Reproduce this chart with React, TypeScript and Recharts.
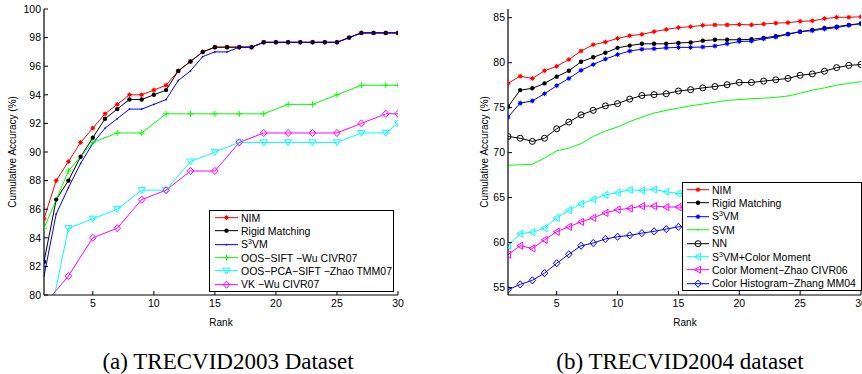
import React from 'react';
import { LineChart, Line, XAxis, YAxis, Legend } from 'recharts';

const FONT = "'Liberation Sans', Arial, Helvetica, sans-serif";

// ---------- shared ----------
const ranks = Array.from({ length: 30 }, (_, i) => i + 1);
const oddRanks = [1, 3, 5, 7, 9, 11, 13, 15, 17, 19, 21, 23, 25, 27, 29, 30];
const rankTicks = [5, 10, 15, 20, 25, 30];

// ---------- (a) TRECVID2003 ----------
const yTicksA = [80, 82, 84, 86, 88, 90, 92, 94, 96, 98, 100];
const nimA = [85.33, 88.0, 89.33, 90.67, 91.67, 92.67, 93.33, 94.0, 94.0, 94.33, 94.67, 95.67, 96.33, 97.0, 97.33, 97.33, 97.33, 97.33, 97.67, 97.67, 97.67, 97.67, 97.67, 97.67, 97.67, 98.0, 98.33, 98.33, 98.33, 98.33];
const rigidA = [82.33, 86.67, 88.0, 89.67, 91.0, 92.33, 93.0, 93.67, 93.67, 94.0, 94.33, 95.67, 96.33, 97.0, 97.33, 97.33, 97.33, 97.33, 97.67, 97.67, 97.67, 97.67, 97.67, 97.67, 97.67, 98.0, 98.33, 98.33, 98.33, 98.33];
const s3vmA = [81.33, 85.67, 87.5, 89.2, 90.6, 91.67, 92.33, 93.0, 93.0, 93.33, 93.67, 95.0, 95.67, 96.67, 97.0, 97.0, 97.33, 97.33, 97.67, 97.67, 97.67, 97.67, 97.67, 97.67, 97.67, 98.0, 98.33, 98.33, 98.33, 98.33];
const oosSiftA = [84.67, 88.67, 90.67, 91.33, 91.33, 92.67, 92.67, 92.67, 92.67, 92.67, 93.33, 93.33, 94.0, 94.67, 94.67, 94.67];
const oosPcaA = [76.4, 84.67, 85.33, 86.0, 87.33, 87.33, 89.33, 90.0, 90.67, 90.67, 90.67, 90.67, 90.67, 91.33, 91.33, 92.0];
const vkA = [79.3, 81.33, 84.0, 84.67, 86.67, 87.33, 88.67, 88.67, 90.67, 91.33, 91.33, 91.33, 91.33, 92.0, 92.67, 92.67];

// ---------- (b) TRECVID2004 ----------
const yTicksB = [55, 60, 65, 70, 75, 80, 85];
const nimB = [77.7, 78.5, 78.25, 79.1, 79.6, 80.35, 81.3, 82.0, 82.3, 82.7, 83.0, 83.15, 83.45, 83.7, 83.9, 84.0, 84.15, 84.2, 84.2, 84.25, 84.2, 84.3, 84.4, 84.45, 84.6, 84.65, 84.9, 85.05, 85.05, 85.1];
const rigidB = [75.1, 76.95, 77.15, 77.7, 78.45, 79.1, 80.1, 80.6, 81.1, 81.65, 81.9, 82.1, 82.1, 82.1, 82.2, 82.25, 82.45, 82.55, 82.55, 82.55, 82.6, 82.75, 82.95, 83.2, 83.45, 83.65, 83.85, 84.0, 84.2, 84.35];
const s3vmB = [73.95, 75.5, 75.75, 76.55, 77.45, 78.25, 79.15, 79.8, 80.4, 80.9, 81.3, 81.5, 81.55, 81.65, 81.7, 81.7, 81.75, 81.85, 82.1, 82.35, 82.4, 82.65, 82.85, 83.15, 83.45, 83.55, 83.75, 83.9, 84.15, 84.35];
const svmB = [68.6, 68.65, 68.7, 69.4, 70.2, 70.5, 71.0, 71.8, 72.4, 72.85, 73.45, 73.95, 74.4, 74.7, 74.95, 75.2, 75.4, 75.6, 75.8, 75.9, 76.0, 76.05, 76.15, 76.3, 76.6, 76.95, 77.2, 77.5, 77.7, 77.9];
const nnB = [71.8, 71.6, 71.25, 71.6, 72.65, 73.4, 74.2, 74.7, 75.2, 75.45, 75.95, 76.35, 76.45, 76.55, 76.85, 77.0, 77.2, 77.35, 77.55, 77.8, 77.8, 77.95, 78.1, 78.25, 78.6, 78.75, 79.05, 79.45, 79.7, 79.8];
const s3vmCmB = [59.65, 61.0, 61.15, 61.6, 62.75, 63.6, 64.3, 64.8, 65.3, 65.55, 65.85, 65.8, 65.9, 65.65, 65.45, 65.4, 65.35, 65.3, 65.3, 65.35, 65.4, 65.4, 65.45, 65.5, 65.5, 65.55, 65.55, 65.6, 65.6, 65.65];
const cmZhaoB = [58.65, 59.65, 59.35, 60.3, 61.2, 61.75, 62.3, 62.75, 63.3, 63.65, 63.8, 64.05, 64.05, 63.95, 63.95, 63.95, 63.9, 63.9, 63.9, 63.95, 63.95, 64.0, 64.0, 64.0, 64.05, 64.05, 64.05, 64.05, 64.05, 64.05];
const chZhangB = [54.75, 55.35, 55.8, 56.6, 57.7, 58.7, 59.65, 59.95, 60.4, 60.65, 60.8, 61.05, 61.25, 61.5, 61.75, 61.85, 61.9, 61.95, 62.0, 62.05, 62.1, 62.15, 62.2, 62.3, 62.35, 62.4, 62.45, 62.5, 62.55, 62.6];

type Shape = 'star' | 'dot' | 'point' | 'plus' | 'tridown' | 'trileft' | 'diamond' | 'circle' | 'none';

const sup3 = <sup style={{ fontSize: '7px', verticalAlign: 'super', lineHeight: 0 }}>3</sup>;

interface Series { key: string; label: React.ReactNode; color: string; shape: Shape; x: number[]; y: number[] }

const seriesA: Series[] = [
  { key: 'NIM', label: 'NIM', color: '#ff0000', shape: 'star', x: ranks, y: nimA },
  { key: 'Rigid', label: 'Rigid Matching', color: '#000000', shape: 'dot', x: ranks, y: rigidA },
  { key: 'S3VM', label: <>S{sup3}VM</>, color: '#0000ff', shape: 'point', x: ranks, y: s3vmA },
  { key: 'OOSSIFT', label: 'OOS\u2212SIFT \u2212Wu CIVR07', color: '#00ff00', shape: 'plus', x: oddRanks, y: oosSiftA },
  { key: 'OOSPCA', label: 'OOS\u2212PCA\u2212SIFT \u2212Zhao TMM07', color: '#00ffff', shape: 'tridown', x: oddRanks, y: oosPcaA },
  { key: 'VK', label: 'VK \u2212Wu CIVR07', color: '#ff00ff', shape: 'diamond', x: oddRanks, y: vkA },
];

const seriesB: Series[] = [
  { key: 'NIM', label: 'NIM', color: '#ff0000', shape: 'star', x: ranks, y: nimB },
  { key: 'Rigid', label: 'Rigid Matching', color: '#000000', shape: 'dot', x: ranks, y: rigidB },
  { key: 'S3VM', label: <>S{sup3}VM</>, color: '#0000ff', shape: 'star', x: ranks, y: s3vmB },
  { key: 'SVM', label: 'SVM', color: '#00ff00', shape: 'none', x: ranks, y: svmB },
  { key: 'NN', label: 'NN', color: '#000000', shape: 'circle', x: ranks, y: nnB },
  { key: 'S3VMCM', label: <>S{sup3}VM+Color Moment</>, color: '#00ffff', shape: 'trileft', x: ranks, y: s3vmCmB },
  { key: 'CMZhao', label: 'Color Moment\u2212Zhao CIVR06', color: '#ff00ff', shape: 'trileft', x: ranks, y: cmZhaoB },
  { key: 'CHZhang', label: 'Color Histogram\u2212Zhang MM04', color: '#0000ff', shape: 'diamond', x: ranks, y: chZhangB },
];

function marker(shape: Shape, color: string, cx: number, cy: number, key?: any) {
  switch (shape) {
    case 'star':
      return (
        <g key={key}>
          <circle cx={cx} cy={cy} r={1.8} fill={color} />
          <path d={`M${cx - 2.5},${cy}H${cx + 2.5}M${cx},${cy - 2.5}V${cy + 2.5}M${cx - 1.8},${cy - 1.8}L${cx + 1.8},${cy + 1.8}M${cx - 1.8},${cy + 1.8}L${cx + 1.8},${cy - 1.8}`} stroke={color} strokeWidth={0.8} />
        </g>
      );
    case 'dot':
      return <circle key={key} cx={cx} cy={cy} r={2.2} fill={color} />;
    case 'point':
      return <circle key={key} cx={cx} cy={cy} r={0.9} fill={color} />;
    case 'plus':
      return <path key={key} d={`M${cx - 3},${cy}H${cx + 3}M${cx},${cy - 3}V${cy + 3}`} stroke={color} strokeWidth={1} fill="none" />;
    case 'tridown':
      return <path key={key} d={`M${cx - 3.6},${cy - 2.6}L${cx + 3.6},${cy - 2.6}L${cx},${cy + 3.4}Z`} stroke={color} strokeWidth={1} fill="none" />;
    case 'trileft':
      return <path key={key} d={`M${cx + 2.6},${cy - 3.6}L${cx + 2.6},${cy + 3.6}L${cx - 3.4},${cy}Z`} stroke={color} strokeWidth={1} fill="none" />;
    case 'diamond':
      return <path key={key} d={`M${cx},${cy - 3.6}L${cx + 3.3},${cy}L${cx},${cy + 3.6}L${cx - 3.3},${cy}Z`} stroke={color} strokeWidth={1} fill="none" />;
    case 'circle':
      return <circle key={key} cx={cx} cy={cy} r={3} stroke={color} strokeWidth={1} fill="none" />;
    default:
      return <g key={key} />;
  }
}

// ---------- ticks (inward tick marks, MATLAB style) ----------
const TICK_FS = 10.5;
const BottomTick = (p: any) => (
  <g>
    <line x1={p.x} y1={p.y} x2={p.x} y2={p.y - 4} stroke="#000" strokeWidth={1} />
    <text x={p.x} y={p.y + 12} textAnchor="middle" fontSize={TICK_FS} fontFamily={FONT} fill="#000">{p.payload.value}</text>
  </g>
);
const LeftTick = (p: any) => (
  <g>
    <line x1={p.x} y1={p.y} x2={p.x + 4} y2={p.y} stroke="#000" strokeWidth={1} />
    <text x={p.x - 3} y={p.y + 3.7} textAnchor="end" fontSize={TICK_FS} fontFamily={FONT} fill="#000">{p.payload.value}</text>
  </g>
);
const TopTick = (p: any) => <line x1={p.x} y1={p.y} x2={p.x} y2={p.y + 4} stroke="#000" strokeWidth={1} />;
const RightTick = (p: any) => <line x1={p.x} y1={p.y} x2={p.x - 4} y2={p.y} stroke="#000" strokeWidth={1} />;

function LegendBox({ items, width, height, lineW, padL }: { items: Series[]; width: number; height: number; lineW: number; padL: number }) {
  const rowH = (height - 2) / items.length;
  return (
    <div style={{ width, height, boxSizing: 'border-box', border: '1px solid #000', background: '#fff', fontFamily: FONT, fontSize: 10.5, color: '#000', paddingLeft: padL }}>
      {items.map((s) => (
        <div key={s.key} style={{ height: rowH, display: 'flex', alignItems: 'center', whiteSpace: 'nowrap' }}>
          <svg width={lineW} height={rowH} style={{ flex: 'none' }}>
            <line x1={0} y1={rowH / 2} x2={lineW} y2={rowH / 2} stroke={s.color} strokeWidth={1} />
            {marker(s.shape === 'none' ? 'point' : s.shape, s.color, lineW / 2, rowH / 2)}
          </svg>
          <span style={{ marginLeft: 3 }}>{s.label}</span>
        </div>
      ))}
    </div>
  );
}

interface PanelProps {
  width: number; height: number; yAxisW: number; marginRight: number;
  yDomain: [number, number]; yTicks: number[]; series: Series[];
  legend: { left: number; top: number; width: number; height: number; lineW: number; padL: number };
}

function Panel({ width, height, yAxisW, marginRight, yDomain, yTicks, series, legend }: PanelProps) {
  return (
    <LineChart width={width} height={height} margin={{ top: 9, right: marginRight, bottom: 25, left: 0 }}>
      <XAxis xAxisId="b" type="number" dataKey="rank" domain={[1, 30]} ticks={rankTicks} interval={0} allowDataOverflow
        height={20} tickSize={0} tickMargin={0} tickLine={false} tick={BottomTick} axisLine={{ stroke: '#000', strokeWidth: 1.2 }} />
      <XAxis xAxisId="t" orientation="top" type="number" dataKey="rank" domain={[1, 30]} ticks={rankTicks} interval={0} allowDataOverflow
        height={0} tickSize={0} tickMargin={0} tickLine={false} tick={TopTick} axisLine={{ stroke: '#000', strokeWidth: 1.2 }} />
      <YAxis yAxisId="l" type="number" domain={yDomain} ticks={yTicks} interval={0} allowDataOverflow
        width={yAxisW} tickSize={0} tickMargin={0} tickLine={false} tick={LeftTick} axisLine={{ stroke: '#000', strokeWidth: 1.2 }} />
      <YAxis yAxisId="r" orientation="right" type="number" domain={yDomain} ticks={yTicks} interval={0} allowDataOverflow
        width={0} tickSize={0} tickMargin={0} tickLine={false} tick={RightTick} axisLine={{ stroke: '#000', strokeWidth: 1.2 }} />
      {series.map((s) => (
        <Line key={s.key} xAxisId="b" yAxisId="l" type="linear" name={s.key}
          data={s.x.map((r, i) => ({ rank: r, value: s.y[i] }))} dataKey="value"
          stroke={s.color} strokeWidth={1} isAnimationActive={false} activeDot={false}
          dot={s.shape === 'none' ? false : (p: any) => (p.cy == null ? <g key={p.index} /> : marker(s.shape, s.color, p.cx, p.cy, p.index))} />
      ))}
      <Legend layout="vertical" align="center" verticalAlign="middle"
        wrapperStyle={{ position: 'absolute', left: legend.left, top: legend.top, width: legend.width, height: legend.height, margin: 0, padding: 0 }}
        content={() => <LegendBox items={series} width={legend.width} height={legend.height} lineW={legend.lineW} padL={legend.padL} />} />
    </LineChart>
  );
}

const YLABEL = 'Cumulative Accuracy (%)';
const SERIF = "'Liberation Serif', 'Times New Roman', serif";

export default function App() {
  return (
    <div style={{ position: 'fixed', left: 0, top: 0, width: 862, height: 374, overflow: 'hidden', background: '#fff' }}>
      <div style={{ position: 'absolute', left: 0, top: 0 }}>
        <Panel width={420} height={340} yAxisW={44} marginRight={22} yDomain={[80, 100]} yTicks={yTicksA} series={seriesA}
          legend={{ left: 209, top: 210, width: 185, height: 82, lineW: 23, padL: 5 }} />
      </div>
      <div style={{ position: 'absolute', left: 440, top: 0 }}>
        <Panel width={440} height={340} yAxisW={68} marginRight={19} yDomain={[54.17, 85.97]} yTicks={yTicksB} series={seriesB}
          legend={{ left: 242, top: 182, width: 180, height: 109, lineW: 22, padL: 4 }} />
      </div>
      <svg width={862} height={374} style={{ position: 'absolute', left: 0, top: 0, pointerEvents: 'none' }}>
        <text x={0} y={0} transform="translate(16,152) rotate(-90)" textAnchor="middle" fontSize={10} fontFamily={FONT} fill="#000">{YLABEL}</text>
        <text x={0} y={0} transform="translate(488,152) rotate(-90)" textAnchor="middle" fontSize={10} fontFamily={FONT} fill="#000">{YLABEL}</text>
        <text x={221} y={326} textAnchor="middle" fontSize={10} fontFamily={FONT} fill="#000">Rank</text>
        <text x={685} y={326} textAnchor="middle" fontSize={10} fontFamily={FONT} fill="#000">Rank</text>
        <text x={228} y={369} textAnchor="middle" fontSize={23} fontFamily={SERIF} fill="#000">(a) TRECVID2003 Dataset</text>
        <text x={680} y={369} textAnchor="middle" fontSize={23} fontFamily={SERIF} fill="#000">(b) TRECVID2004 dataset</text>
      </svg>
    </div>
  );
}
